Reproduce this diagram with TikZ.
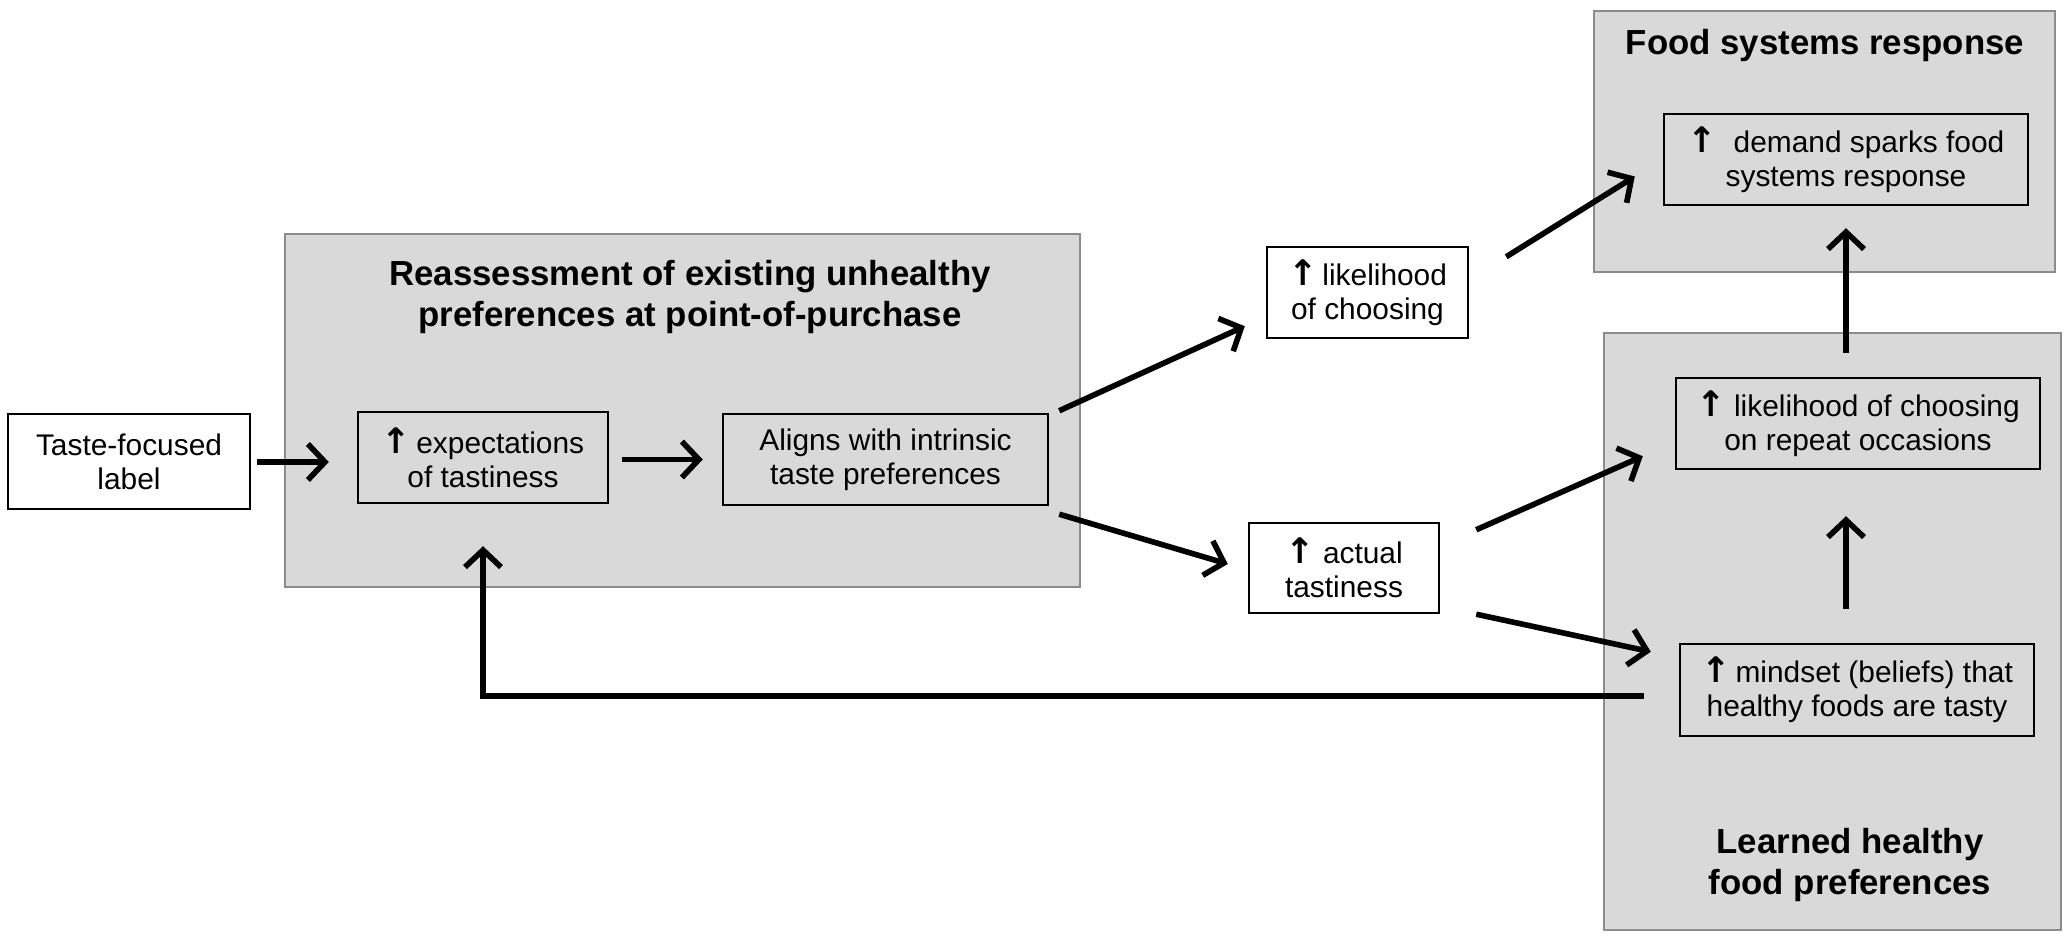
\documentclass[tikz,border=0pt]{standalone}
\usepackage{fontspec}
\setmainfont{Liberation Sans}
\newfontfamily\arrowfont{DejaVu Sans}
\usepackage{tikz}
\usetikzlibrary{arrows,arrows.meta,shapes,calc}

\definecolor{panelgray}{HTML}{D9D9D9}
\definecolor{panelline}{HTML}{8C8C8C}
\newcommand{\uparr}{{\arrowfont\bfseries\fontsize{10}{9.7}\selectfont ↑}}

\begin{document}
\begin{tikzpicture}[
	>={Straight Barb[length=0.17cm,width=0.36cm]},
	panel/.style={draw=panelline, fill=panelgray, line width=0.8pt, inner sep=0pt},
	heading/.style={font=\fontsize{9.9}{11.4}\selectfont\bfseries, align=center},
	box/.style={draw, line width=0.7pt, align=center, inner sep=0pt,
		font=\fontsize{8.5}{9.7}\selectfont},
	whitebox/.style={box, fill=white},
	arr/.style={line width=1.6pt, ->}
]

	\useasboundingbox (0,0) rectangle (20.72,9.41);

	% grey panels
	\node[panel, minimum width=7.95cm, minimum height=3.53cm] (reassess) at (6.825,5.305) {};
	\node[panel, minimum width=4.61cm, minimum height=2.61cm] (foodsys) at (18.245,7.995) {};
	\node[panel, minimum width=4.57cm, minimum height=5.97cm] (learned) at (18.325,3.095) {};

	\node[heading] (reassesstitle) at (6.9,6.44) {Reassessment of existing unhealthy\\preferences at point-of-purchase};
	\node[heading] (foodsystitle) at (18.25,8.95) {Food systems response};
	\node[heading] (learnedtitle) at (18.5,0.76) {Learned healthy\\food preferences};

	% boxes
	\node[whitebox, minimum width=2.42cm, minimum height=0.95cm] (taste) at (1.29,4.795) {Taste-focused\\label};
	\node[box, minimum width=2.50cm, minimum height=0.91cm] (expect) at (4.83,4.835) {\uparr\,expectations\\of tastiness};
	\node[box, minimum width=3.25cm, minimum height=0.91cm] (align) at (8.855,4.815) {Aligns with intrinsic\\taste preferences};
	\node[whitebox, minimum width=2.01cm, minimum height=0.91cm] (choose) at (13.675,6.485) {\uparr\,likelihood\\of choosing};
	\node[whitebox, minimum width=1.90cm, minimum height=0.90cm] (actual) at (13.44,3.73) {\uparr\ actual\\tastiness};
	\node[box, minimum width=3.64cm, minimum height=0.91cm] (demand) at (18.46,7.815) {\uparr\ \ demand sparks food\\systems response};
	\node[box, minimum width=3.64cm, minimum height=0.91cm] (repeat) at (18.58,5.175) {\uparr\ likelihood of choosing\\on repeat occasions};
	\node[box, minimum width=3.54cm, minimum height=0.92cm] (mindset) at (18.57,2.51) {\uparr\,mindset (beliefs) that\\healthy foods are tasty};

	% arrows
	\draw[arr, shorten <=0.06cm, shorten >=0.28cm] ([yshift=-0.005cm]taste.east) -- ([yshift=-0.005cm]taste.east -| expect.west);
	\draw[arr, shorten <=0.13cm, shorten >=0.19cm] ([yshift=-0.02cm]expect.east) -- ([yshift=-0.02cm]expect.east -| align.west);
	\draw[arr] ([shift={(0.1,0.02)}]align.north east) -- ([shift={(-0.21,0.13)}]choose.south west);
	\draw[arr] ([shift={(0.1,-0.08)}]align.south east) -- ([shift={(-0.2,0.04)}]actual.west);
	\draw[arr] ([shift={(0.37,-0.11)}]choose.north east) -- ([shift={(-0.28,-0.17)}]demand.west);
	\draw[arr] ([shift={(0.36,-0.08)}]actual.north east) -- ([shift={(-0.32,0.14)}]repeat.south west);
	\draw[arr] ([shift={(0.36,0)}]actual.south east) -- ([shift={(-0.28,-0.09)}]mindset.north west);
	\draw[arr, shorten <=0.34cm, shorten >=0.46cm] (mindset.north -| demand.south) -- (repeat.south -| demand.south);
	\draw[arr, shorten <=0.24cm, shorten >=0.22cm] (repeat.north -| demand.south) -- (demand.south);
	\draw[arr] ([shift={(-0.35,-0.06)}]mindset.west) -| ([yshift=-0.42cm]expect.south); %feedback loop

\end{tikzpicture}
\end{document}
